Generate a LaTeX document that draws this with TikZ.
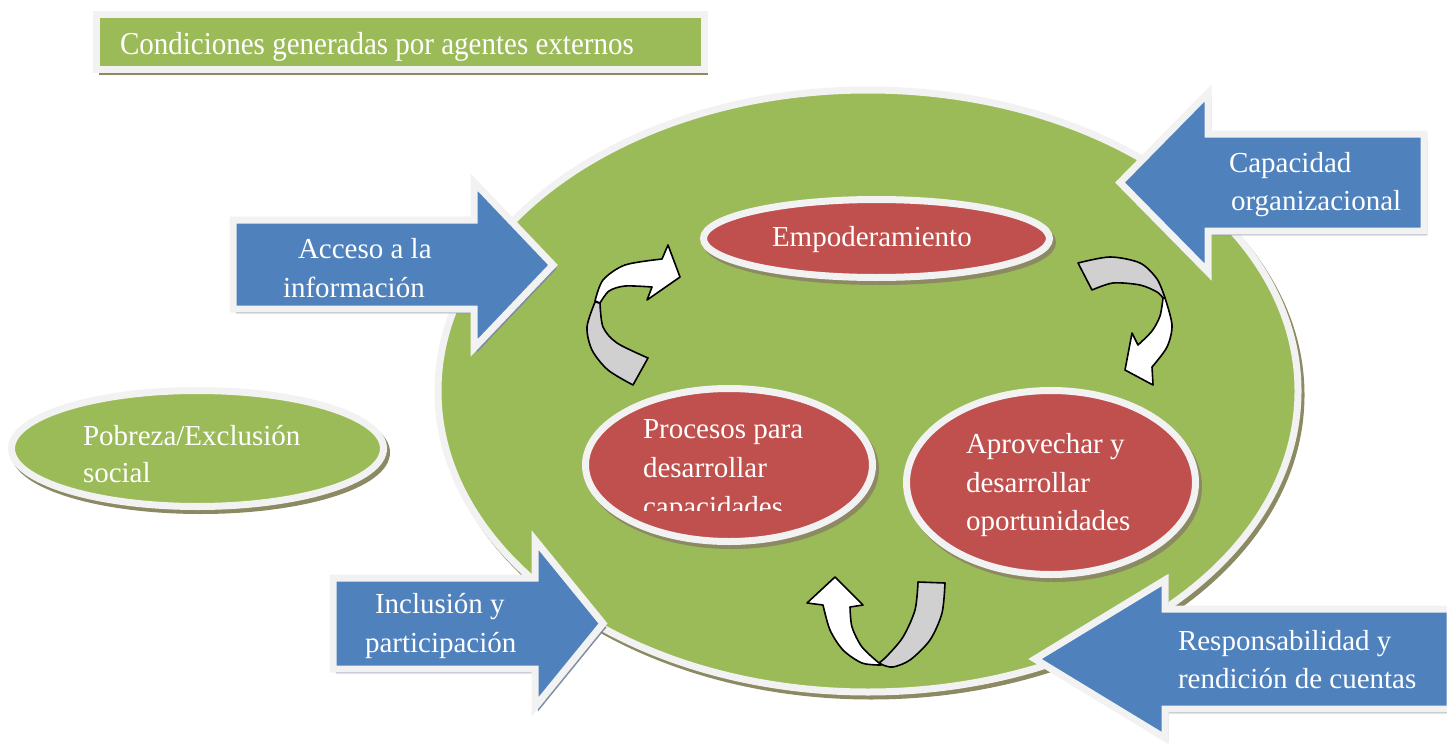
\documentclass[tikz,border=0pt]{standalone}
\usepackage{fontspec}
\setmainfont{Liberation Serif}
\usetikzlibrary{shapes.geometric}
\definecolor{mygreen}{HTML}{9BBB59}
\definecolor{myred}{HTML}{C0504D}
\definecolor{myblue}{HTML}{4F81BD}
\definecolor{bord}{HTML}{F2F2F2}
\definecolor{shdG}{HTML}{8C8A62}
\definecolor{shdB}{HTML}{7D8CA3}
\definecolor{curvegray}{HTML}{D0D0D0}
\tikzset{
  txt/.style={text=white, inner sep=0pt, outer sep=0pt, font=\fontsize{29}{35}\selectfont},
  shd/.style={preaction={draw=#1, fill=#1, transform canvas={xshift=3pt, yshift=-4pt}}},
  bluearr/.style={shd=shdB, fill=myblue, draw=bord, line width=7pt, line join=miter, miter limit=10},
  ell/.style={ellipse, shd=shdG, draw=bord, line width=7pt, inner sep=0pt, outer sep=0pt},
  curv/.style={draw=black, line width=1.6pt, line join=round},
}
\begin{document}
\begin{tikzpicture}[x=1pt,y=-1pt]
\useasboundingbox (0,0) rectangle (1447,749);
% title
\path[shd=shdG, fill=mygreen, draw=bord, line width=7pt] (96,15) rectangle (704,70);
\begin{scope}
\clip (100,19) rectangle (700,63);
\node[txt, anchor=base west, yscale=1.1, transform shape] (title) at (120,55) {Condiciones generadas por agentes externos};
\end{scope}
% big ellipse
\node[ell, fill=mygreen, minimum width=860pt, minimum height=602pt] (big) at (868,391) {};
% pobreza
\node[ell, fill=mygreen, minimum width=372pt, minimum height=116pt] (pob) at (197.5,448.5) {};
\node[txt, anchor=base west] (pob1) at (83,445) {Pobreza/Exclusión};
\node[txt, anchor=base west] (pob2) at (83,482) {social};
% blue arrows
\path[bluearr] (233,220) -- (474,220) -- (474,182) -- (553,265) -- (474,348) -- (474,309) -- (233,309) -- cycle;
\node[txt, anchor=base west] (acc1) at (298,258) {Acceso a la};
\node[txt, anchor=base west] (acc2) at (283,297) {información};
\path[bluearr] (1424,134) -- (1208,134) -- (1208,93) -- (1120,182.5) -- (1208,272) -- (1208,231) -- (1424,231) -- cycle;
\node[txt, anchor=base west] (cap1) at (1229,172) {Capacidad};
\node[txt, anchor=base west] (cap2) at (1231,210) {organizacional};
\path[bluearr] (333,578) -- (535,578) -- (535,540) -- (603,623.5) -- (535,707) -- (535,669) -- (333,669) -- cycle;
\node[txt, anchor=base west] (inc1) at (375,613) {Inclusión y};
\node[txt, anchor=base west] (inc2) at (365,652) {participación};
\path[bluearr] (1450,609) -- (1165,609) -- (1165,580) -- (1035,659) -- (1165,738) -- (1165,709) -- (1450,709) -- cycle;
\node[txt, anchor=base west] (res1) at (1178,650) {Responsabilidad y};
\node[txt, anchor=base west] (res2) at (1178,688) {rendición de cuentas};
% red ellipses
\node[ell, fill=myred, minimum width=346pt, minimum height=78pt] (emp) at (876.5,238.5) {};
\node[txt, anchor=base west] (emp1) at (772,246) {Empoderamiento};
\node[ell, fill=myred, minimum width=287pt, minimum height=153pt] (pro) at (729,465) {};
\node[txt, anchor=base west] (pro1) at (643,438) {Procesos para};
\node[txt, anchor=base west] (pro2) at (643,477) {desarrollar};
\begin{scope}
\clip (600,400) rectangle (860,510);
\node[txt, anchor=base west] (pro3) at (643,516) {capacidades};
\end{scope}
\node[ell, fill=myred, minimum width=289pt, minimum height=184pt] (apr) at (1051,482.5) {};
\node[txt, anchor=base west] (apr1) at (966,453) {Aprovechar y};
\node[txt, anchor=base west] (apr2) at (966,492) {desarrollar};
\node[txt, anchor=base west] (apr3) at (966,530) {oportunidades};
% curved arrow 1
\path[curv, fill=curvegray] plot[smooth] coordinates {(633,385) (608,370) (592,350) (587,327) (595,302)} -- plot[smooth] coordinates {(600,303) (603,327) (617,343) (648,358)} -- cycle;
\path[curv, fill=white] plot[smooth] coordinates {(595,301) (603,280) (625,265) (662,259)} -- (668,245) -- (680,277) -- (647,300) -- plot[smooth] coordinates {(652,287) (625,286) (609,291) (600,303)} -- cycle;
% curved arrow 2
\path[curv, fill=curvegray] plot[smooth] coordinates {(1078,263) (1110,257) (1140,263) (1157,279) (1165,298)} -- plot[smooth] coordinates {(1163,298) (1157,292) (1140,285) (1113,283) (1092,290)} -- cycle;
\path[curv, fill=white] plot[smooth] coordinates {(1165,298) (1172,325) (1167,347) (1152,367)} -- (1153,385) -- (1125,370) -- (1132,333) -- plot[smooth] coordinates {(1138,345) (1152,331) (1160,316) (1163,298)} -- cycle;
% curved arrow 3
\path[curv, fill=curvegray] plot[smooth] coordinates {(918,582) (915,610) (903,637) (887,656) (879,663)} -- plot[smooth] coordinates {(883,665) (893,667) (910,660) (930,640) (942,613) (945,583)} -- cycle;
\path[curv, fill=white] plot[smooth] coordinates {(881,665) (862,663) (843,650) (830,630) (823,605)} -- (807,603) -- (835,577) -- (863,605) -- plot[smooth] coordinates {(850,607) (852,627) (862,647) (879,663)} -- cycle;
\end{tikzpicture}
\end{document}
